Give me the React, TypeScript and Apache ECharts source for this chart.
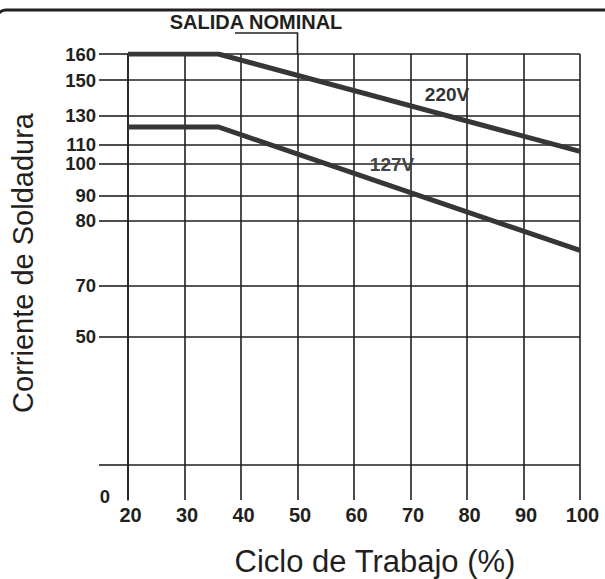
import React, { useEffect, useRef } from "react";
import * as echarts from "echarts";

// ---- data ----
const xTicks = [20, 30, 40, 50, 60, 70, 80, 90, 100];
// Hand-drawn, non-linear current axis: each labelled current has its own axis position.
const yTickValues = [0, 50, 70, 80, 90, 100, 110, 130, 150, 160];
const yTickScale = [-31.4, 128.6, 179.6, 244.3, 269.6, 301.6, 320.6, 349.6, 385, 411];
const yBaseLine = 0; // unlabelled bottom grid line (axis scale units)
const dutyCycle220 = [20, 36, 100];
const current220 = [160, 160, 106.3];
const dutyCycle127 = [20, 36, 100];
const current127 = [122, 122, 75.4];
const seriesNames = ["220V", "127V"];

const FONT = "'Liberation Sans', Arial, Helvetica, sans-serif";
const INK = "#231f20";
const LINE = "#363636";

function toScale(v: number): number {
  for (let i = 0; i < yTickValues.length - 1; i++) {
    const a = yTickValues[i], b = yTickValues[i + 1];
    if (v >= a && v <= b) {
      const t = (v - a) / (b - a);
      return yTickScale[i] + t * (yTickScale[i + 1] - yTickScale[i]);
    }
  }
  return v < yTickValues[0] ? yTickScale[0] : yTickScale[yTickScale.length - 1];
}

function labelFor(pos: number): string {
  for (let i = 0; i < yTickScale.length; i++) {
    if (Math.abs(yTickScale[i] - pos) < 0.01) {
      const v = yTickValues[i];
      return v === 0 ? "0" : `{p|${v}}`;
    }
  }
  return "";
}

export default function App() {
  const ref = useRef<HTMLDivElement>(null);
  useEffect(() => {
    if (!ref.current) return;
    const chart = echarts.init(ref.current, null, { renderer: "svg" });
    const gridLineValues = [yBaseLine, ...yTickScale.filter((p, i) => yTickValues[i] !== 0)];
    const option: any = {
      animation: false,
      backgroundColor: "#ffffff",
      grid: { left: 128, right: 25, top: 54, bottom: 79, containLabel: false },
      xAxis: {
        type: "value",
        min: xTicks[0],
        max: xTicks[xTicks.length - 1],
        interval: 10,
        axisLine: { show: false },
        axisTick: { show: false },
        splitLine: { show: true, lineStyle: { color: INK, width: 1.6 } },
        axisLabel: {
          margin: 5,
          color: INK,
          fontFamily: FONT,
          fontWeight: "bold",
          fontSize: 20,
          padding: [0, 0, 0, 5],
        },
      },
      yAxis: {
        type: "value",
        min: -35,
        max: yTickScale[yTickScale.length - 1],
        axisLine: { show: true, lineStyle: { color: INK, width: 1.6 } },
        axisTick: {
          show: true,
          customValues: gridLineValues,
          length: 29,
          inside: false,
          lineStyle: { color: INK, width: 1.6 },
        },
        splitLine: { show: true, lineStyle: { color: INK, width: 1.6 } },
        axisLabel: {
          customValues: yTickScale,
          margin: 18,
          color: INK,
          fontFamily: FONT,
          fontWeight: "bold",
          fontSize: 18.5,
          lineHeight: 17,
          formatter: (val: number) => labelFor(val),
          rich: {
            p: {
              color: INK,
              fontFamily: FONT,
              fontWeight: "bold",
              fontSize: 18.5,
              lineHeight: 17,
              padding: [0, 14, 0, 0],
            },
          },
        },
      },
      series: [
        {
          name: seriesNames[0],
          type: "line",
          showSymbol: false,
          data: dutyCycle220.map((x, i) => [x, toScale(current220[i])]),
          lineStyle: { color: LINE, width: 5, cap: "butt", join: "miter" },
          z: 5,
        },
        {
          name: seriesNames[1],
          type: "line",
          showSymbol: false,
          data: dutyCycle127.map((x, i) => [x, toScale(current127[i])]),
          lineStyle: { color: LINE, width: 5, cap: "butt", join: "miter" },
          z: 5,
        },
      ],
    };
    chart.setOption(option);

    const x50 = chart.convertToPixel({ xAxisIndex: 0 }, 50) as number;
    const yTop = chart.convertToPixel({ yAxisIndex: 0 }, yTickScale[yTickScale.length - 1]) as number;

    chart.setOption({
      graphic: [
        {
          type: "rect",
          silent: true,
          shape: { x: -4, y: 10, width: 640, height: 800, r: 10 },
          style: { fill: "none", stroke: INK, lineWidth: 3 },
        },
        {
          type: "text",
          x: 256,
          y: 22,
          style: {
            text: "SALIDA NOMINAL",
            fill: INK,
            font: `bold 20px ${FONT}`,
            textAlign: "center",
            textVerticalAlign: "middle",
          },
        },
        {
          type: "polyline",
          shape: { points: [[235, 33], [x50, 33], [x50, yTop]] },
          style: { stroke: INK, lineWidth: 1.6, fill: "none" },
        },
        {
          type: "text",
          x: 447,
          y: 94,
          style: {
            text: seriesNames[0],
            fill: "#333333",
            font: `bold 19px ${FONT}`,
            textAlign: "center",
            textVerticalAlign: "middle",
          },
        },
        {
          type: "text",
          x: 392,
          y: 164,
          style: {
            text: seriesNames[1],
            fill: "#444444",
            font: `bold 19px ${FONT}`,
            textAlign: "center",
            textVerticalAlign: "middle",
          },
        },
        {
          type: "text",
          x: 23,
          y: 263,
          rotation: Math.PI / 2,
          style: {
            text: "Corriente de Soldadura",
            fill: INK,
            font: `29px ${FONT}`,
            textAlign: "center",
            textVerticalAlign: "middle",
          },
        },
        {
          type: "text",
          x: 375,
          y: 561,
          style: {
            text: "Ciclo de Trabajo (%)",
            fill: INK,
            font: `31px ${FONT}`,
            textAlign: "center",
            textVerticalAlign: "middle",
          },
        },
      ],
    });

    return () => chart.dispose();
  }, []);
  return (
    <div
      ref={ref}
      style={{ position: "fixed", left: 0, top: 0, width: 605, height: 579 }}
    />
  );
}
